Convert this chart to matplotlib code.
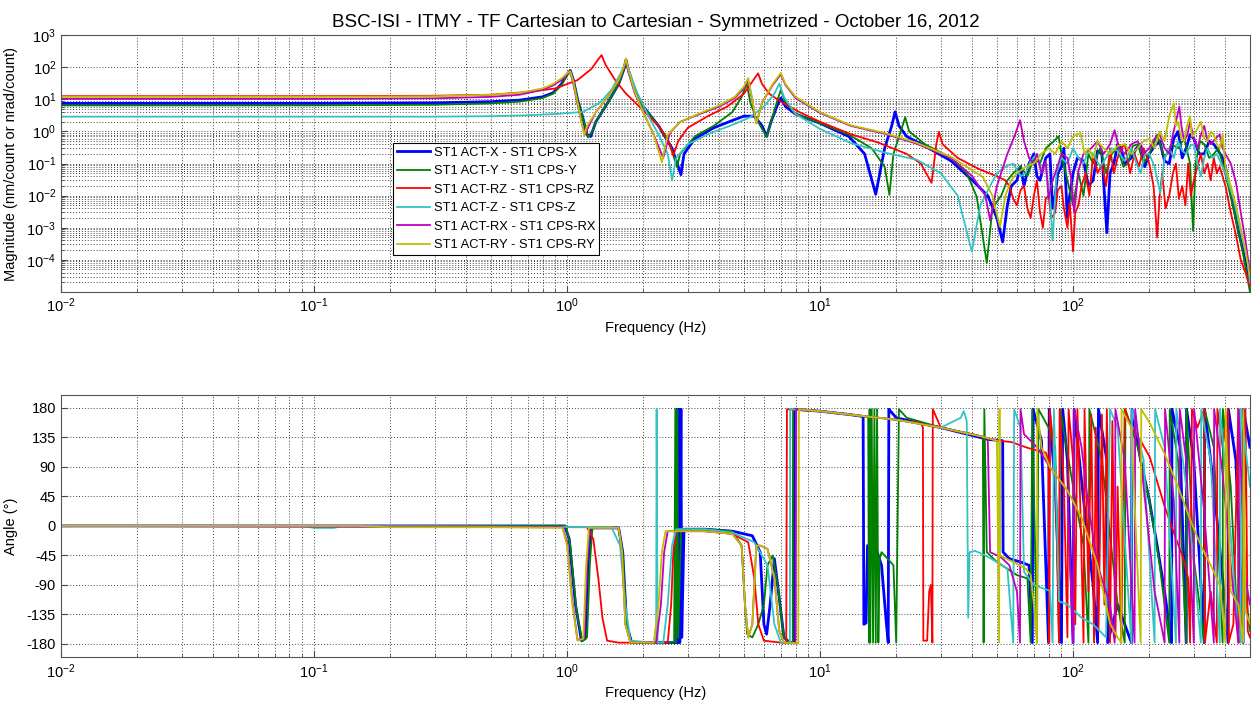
import matplotlib
matplotlib.use("Agg")
import matplotlib.pyplot as plt
from matplotlib.ticker import FixedLocator, NullFormatter

plt.rcParams['font.family'] = ['Liberation Sans', 'DejaVu Sans']
plt.rcParams['mathtext.fontset'] = 'custom'
plt.rcParams['mathtext.rm'] = 'Liberation Sans'
plt.rcParams['axes.unicode_minus'] = False

title = "BSC-ISI - ITMY - TF Cartesian to Cartesian - Symmetrized - October 16, 2012"
labels = ["ST1 ACT-X - ST1 CPS-X", "ST1 ACT-Y - ST1 CPS-Y", "ST1 ACT-RZ - ST1 CPS-RZ",
          "ST1 ACT-Z - ST1 CPS-Z", "ST1 ACT-RX - ST1 CPS-RX", "ST1 ACT-RY - ST1 CPS-RY"]
colors = ["#0000ff", "#008000", "#ff0000", "#33c3c3", "#c000c0", "#c0c000"]

# magnitude, (freq Hz, value)
mag_x = [(0.01, 7.5), (0.1, 7.5), (0.3, 7.8), (0.5, 8.5), (0.65, 9.5), (0.8, 12), (0.88, 16), (0.95, 30),
         (1.0, 60), (1.03, 80), (1.06, 40), (1.10, 10), (1.15, 3), (1.20, 0.8), (1.24, 0.7), (1.30, 2),
         (1.45, 8), (1.60, 30), (1.68, 90), (1.71, 170), (1.75, 80), (1.85, 20), (2.0, 6), (2.3, 1.5),
         (2.6, 0.3), (2.75, 0.08), (2.82, 0.045), (2.9, 0.2), (3.2, 0.6), (3.8, 1.3), (4.5, 2.2), (5.0, 3.0),
         (5.5, 3.0), (5.9, 1.5), (6.15, 0.7), (6.4, 2), (6.8, 7), (7.0, 11), (7.3, 6), (8.0, 3.5), (10, 1.8),
         (13, 0.7), (15, 0.2), (16.6, 0.011), (18, 0.3), (19.2, 1.5), (19.8, 4.1), (20.5, 1.5), (22, 0.7),
         (26, 0.35), (33, 0.12), (40, 0.03), (46, 0.01), (50, 0.002), (52.7, 0.00036), (55, 0.005),
         (57, 0.02), (60, 0.03), (62, 0.08), (64, 0.02), (67, 0.1), (70, 0.2), (72, 0.04), (74, 0.03),
         (78, 0.15), (81, 0.2), (83, 0.004), (85, 0.01), (87, 0.05), (90, 0.08), (92, 0.3), (95, 0.002),
         (97, 0.01), (100, 0.05), (104, 0.15), (110, 0.12), (115, 0.02), (120, 0.03), (125, 0.25),
         (130, 0.2), (136, 0.0007), (140, 0.05), (145, 0.1), (150, 0.4), (155, 0.3), (160, 0.1), (170, 0.15),
         (178, 0.3), (185, 0.4), (192, 0.08), (200, 0.2), (210, 0.35), (220, 0.5), (230, 0.12), (240, 0.1),
         (250, 0.6), (260, 1.0), (270, 0.15), (280, 0.3), (290, 0.8), (300, 0.6), (315, 0.2), (330, 0.2),
         (345, 0.5), (360, 0.4), (375, 0.25), (390, 0.15), (400, 0.08), (410, 0.03), (430, 0.005),
         (450, 0.0008), (470, 0.0002), (500, 0.00002)]
mag_y = [(0.01, 6.5), (0.1, 6.5), (0.3, 6.8), (0.5, 7.5), (0.65, 8.5), (0.8, 11), (0.88, 15), (0.95, 28),
         (1.0, 55), (1.03, 80), (1.06, 40), (1.10, 10), (1.15, 3), (1.21, 0.65), (1.26, 1), (1.30, 2),
         (1.45, 8), (1.6, 30), (1.68, 90), (1.71, 180), (1.75, 80), (1.85, 20), (2.0, 6), (2.3, 1.5),
         (2.55, 0.4), (2.72, 0.078), (2.8, 0.2), (3.2, 0.7), (3.8, 1.5), (4.5, 4), (4.9, 12), (5.13, 31),
         (5.3, 8), (5.6, 2.5), (5.9, 1.2), (6.15, 0.7), (6.4, 2), (6.8, 10), (7.0, 20), (7.3, 8), (8, 3.5),
         (10, 1.8), (13, 0.8), (16, 0.3), (18, 0.08), (18.8, 0.0105), (19.5, 0.2), (21, 1.2), (21.7, 2.8),
         (22.5, 1.0), (26, 0.4), (33, 0.15), (38, 0.05), (41.6, 0.0093), (45.6, 0.00008), (48, 0.004),
         (52, 0.01), (55, 0.03), (58, 0.05), (62, 0.08), (66, 0.04), (70, 0.15), (74, 0.1), (78, 0.3),
         (84, 0.5), (87.6, 0.71), (90, 0.2), (95, 0.03), (100, 0.005), (105, 0.05), (110, 0.01), (115, 0.2),
         (120, 0.1), (128, 0.3), (135, 0.05), (142, 0.2), (150, 0.3), (158, 0.08), (165, 0.1), (172, 0.35),
         (180, 0.4), (190, 0.1), (200, 0.2), (215, 0.8), (230, 0.15), (245, 0.4), (260, 0.3), (275, 0.6),
         (290, 0.1), (298, 0.0008), (305, 0.1), (318, 0.5), (330, 0.4), (345, 0.15), (360, 0.2), (375, 0.3),
         (390, 0.1), (410, 0.02), (430, 0.004), (450, 0.0008), (470, 0.00015), (500, 0.00001)]
mag_rz = [(0.01, 12.6), (0.1, 12.6), (0.3, 13), (0.5, 14), (0.7, 17), (0.9, 22), (1.1, 40), (1.25, 90),
          (1.33, 180), (1.37, 240), (1.42, 120), (1.55, 40), (1.7, 16), (2.0, 4.5), (2.3, 1.5), (2.5, 0.6),
          (2.63, 0.18), (2.75, 0.5), (3.0, 1.3), (3.6, 3), (4.3, 6), (5.0, 15), (5.45, 40), (5.69, 65),
          (5.9, 30), (6.3, 15), (7.0, 8.5), (8.3, 4), (10, 2), (13.2, 0.83), (17, 0.45), (22, 0.2), (25, 0.1),
          (27.6, 0.025), (28.8, 0.4), (29.5, 0.97), (30.5, 0.4), (35, 0.15), (42, 0.07), (50, 0.04),
          (54, 0.03), (56, 0.02), (58, 0.008), (60, 0.005), (62, 0.015), (64, 0.02), (66, 0.004), (68, 0.002),
          (70, 0.01), (72, 0.03), (74, 0.003), (76, 0.001), (78, 0.008), (80, 0.01), (82, 0.002), (85, 0.003),
          (87, 0.015), (90, 0.02), (92, 0.004), (95, 0.001), (97, 0.006), (100, 0.00018), (102, 0.003),
          (105, 0.005), (108, 0.02), (112, 0.05), (116, 0.01), (120, 0.2), (125, 0.05), (130, 0.1),
          (135, 0.02), (140, 0.3), (145, 0.05), (150, 0.15), (155, 0.3), (160, 0.4), (168, 0.05), (175, 0.2),
          (182, 0.08), (190, 0.3), (200, 0.1), (208, 0.02), (215, 0.0005), (220, 0.01), (225, 0.05),
          (232, 0.004), (240, 0.01), (248, 0.05), (255, 0.1), (262, 0.008), (270, 0.02), (278, 0.005),
          (285, 0.1), (292, 0.01), (300, 0.03), (310, 0.08), (320, 0.2), (330, 0.05), (340, 0.1), (350, 0.03),
          (360, 0.15), (370, 0.05), (380, 0.08), (390, 0.04), (400, 0.02), (420, 0.003), (440, 0.0006),
          (460, 0.0001), (480, 0.00004), (500, 0.000015)]
mag_z = [(0.01, 2.9), (0.1, 2.9), (0.3, 2.9), (0.5, 3.0), (0.7, 3.2), (0.9, 3.5), (1.16, 4.1), (1.35, 8),
         (1.5, 20), (1.62, 60), (1.71, 150), (1.78, 60), (1.9, 15), (2.1, 3), (2.3, 0.8), (2.5, 0.2),
         (2.6, 0.03), (2.7, 0.15), (3.0, 0.4), (3.7, 0.9), (4.5, 1.6), (5.3, 2.8), (6.0, 6), (6.6, 15),
         (6.9, 31), (7.2, 12), (8, 3.5), (10, 1.2), (13.2, 0.44), (18, 0.22), (24.2, 0.13), (30, 0.05),
         (35, 0.01), (39.8, 0.00018), (43, 0.005), (47, 0.02), (50, 0.05), (54, 0.08), (58, 0.1), (62, 0.04),
         (65, 0.05), (68, 0.12), (72, 0.2), (75, 0.06), (78, 0.08), (81, 0.01), (83, 0.0004), (86, 0.05),
         (90, 0.15), (95, 0.1), (100, 0.3), (105, 0.15), (110, 0.1), (115, 0.25), (120, 0.2), (128, 0.08),
         (135, 0.15), (142, 0.3), (150, 0.25), (160, 0.12), (170, 0.3), (178, 0.1), (185, 0.05), (192, 0.2),
         (200, 0.2), (210, 0.08), (221, 0.012), (230, 0.15), (240, 0.3), (250, 0.15), (260, 0.5), (270, 0.25),
         (280, 0.2), (290, 0.35), (300, 0.4), (310, 0.1), (320, 0.04), (330, 0.15), (340, 0.3), (355, 0.15),
         (370, 0.2), (385, 0.1), (400, 0.05), (430, 0.008), (460, 0.0008), (490, 0.00008), (500, 0.00002)]
mag_rx = [(0.01, 10.4), (0.1, 10.4), (0.3, 10.8), (0.5, 12), (0.65, 14), (0.8, 20), (0.88, 27), (0.95, 40),
          (1.0, 60), (1.03, 70), (1.06, 30), (1.10, 7), (1.15, 1.5), (1.18, 0.8), (1.22, 1.5), (1.3, 4),
          (1.45, 12), (1.6, 40), (1.68, 100), (1.71, 170), (1.75, 70), (1.85, 16), (2.0, 4), (2.2, 0.8),
          (2.4, 0.15), (2.55, 0.9), (2.8, 2), (3.35, 3.5), (4.0, 6), (4.6, 11), (5.0, 22), (5.2, 40), (5.4, 9),
          (5.6, 1.8), (5.9, 8), (6.5, 28), (7.0, 60), (7.3, 28), (8, 11), (10, 3.8), (13.2, 1.5), (18, 0.85),
          (24, 0.42), (33, 0.15), (40, 0.04), (45, 0.01), (47, 0.0017), (50, 0.02), (55, 0.2), (59, 0.8),
          (61.7, 2.25), (64, 0.5), (67, 0.15), (70, 0.1), (72, 0.2), (75, 0.05), (78, 0.12), (80, 0.008),
          (83, 0.03), (85, 0.05), (90, 0.2), (95, 0.15), (98, 0.04), (101, 0.003), (105, 0.06), (110, 0.2),
          (118, 0.3), (125, 0.5), (132, 0.2), (140, 0.4), (146, 1.1), (152, 0.3), (160, 0.2), (170, 0.4),
          (180, 0.5), (190, 0.2), (200, 0.3), (210, 0.6), (220, 0.8), (230, 0.3), (240, 0.2), (248, 0.8),
          (255, 2), (263, 6), (268, 1.5), (275, 0.5), (283, 0.8), (290, 2), (300, 0.6), (310, 0.3), (320, 0.8),
          (330, 1.5), (340, 0.5), (350, 0.4), (365, 0.6), (380, 0.8), (390, 0.3), (400, 0.2), (420, 0.1),
          (440, 0.027), (460, 0.003), (480, 0.0004), (500, 0.00004)]
mag_ry = [(0.01, 12), (0.1, 12), (0.3, 12.5), (0.5, 14), (0.65, 16), (0.8, 22), (0.88, 30), (0.95, 45),
          (1.0, 65), (1.03, 75), (1.06, 35), (1.10, 8), (1.14, 2), (1.17, 0.77), (1.2, 1.5), (1.3, 4),
          (1.45, 12), (1.6, 40), (1.68, 110), (1.71, 190), (1.75, 80), (1.85, 18), (2.0, 4), (2.2, 0.8),
          (2.37, 0.11), (2.5, 0.8), (2.8, 2), (3.35, 3.7), (4.0, 6.5), (4.6, 12), (5.0, 25), (5.2, 46),
          (5.4, 10), (5.6, 1.8), (5.9, 8), (6.5, 30), (7.0, 67), (7.3, 30), (8, 12), (10, 4), (13.2, 1.57),
          (18, 0.9), (24, 0.45), (33, 0.16), (44, 0.038), (48, 0.01), (51.4, 0.00107), (54, 0.01), (57, 0.03),
          (60, 0.05), (65, 0.08), (70, 0.1), (75, 0.2), (80, 0.3), (85, 0.2), (90, 0.5), (95, 0.3), (100, 0.7),
          (107, 0.9), (111, 0.2), (115, 0.3), (120, 0.15), (125, 0.5), (132, 0.3), (140, 0.2), (150, 0.35),
          (160, 0.4), (170, 0.2), (180, 0.3), (190, 0.5), (200, 0.6), (210, 0.3), (220, 1.0), (230, 0.5),
          (240, 3), (250, 7.6), (255, 1.5), (260, 2), (268, 0.6), (275, 0.5), (282, 1.5), (290, 3), (295, 0.7),
          (300, 0.8), (310, 1.2), (320, 2), (330, 0.6), (340, 0.5), (350, 1.0), (360, 0.8), (370, 0.4),
          (380, 0.3), (390, 0.8), (400, 0.08), (420, 0.02), (440, 0.005), (460, 0.001), (480, 0.0002),
          (500, 0.00003)]

# phase in degrees, (freq Hz, value)
ph_x = [(0.01, 0), (0.98, 0), (1.02, -20), (1.08, -120), (1.14, -175), (1.18, -172), (1.21, -60), (1.24, -3),
        (1.6, -3), (1.66, -40), (1.72, -150), (1.8, -178), (2.7, -178), (2.72, 178), (2.74, -178), (2.77, 178),
        (2.79, -178), (2.82, 178), (2.84, -170), (2.9, -5), (3.5, -5), (4.5, -8), (5.4, -15), (5.8, -40),
        (6.0, -150), (6.15, -165), (6.35, -120), (6.6, -50), (6.8, -90), (7.2, -170), (7.6, -178),
        (7.9, -178), (7.92, 178), (10, 175), (13, 170), (14.8, 167), (14.9, -150), (15.2, -148), (15.4, -30),
        (16.5, -30), (17.5, -60), (18.3, -150), (18.6, -178), (18.7, 178), (20, 165), (24, 158), (30, 150),
        (40, 138), (46, 132), (52.7, 130), (52.9, -40), (56, -50), (62, -55), (67, -60), (69, -178),
        (69.5, 178), (75, 130), (80, -178), (80.5, 178), (85, 60), (90, -178), (91, 178), (95, 100),
        (100, -178), (101, 178), (110, 40), (120, -90), (125, -178), (126, 178), (136, 100), (137, -178),
        (150, -120), (170, -178), (171, 178), (185, 100), (200, 40), (215, -30), (230, -100), (245, -178),
        (246, 178), (265, 120), (280, -178), (281, 178), (300, 100), (330, -178), (331, 178), (360, 60),
        (390, -80), (410, -178), (411, 178), (440, 100), (470, -178), (471, 178), (500, 120)]
ph_y = [(0.01, 0), (0.99, 0), (1.03, -30), (1.09, -130), (1.15, -176), (1.2, -170), (1.23, -60), (1.26, -3),
        (1.6, -3), (1.66, -40), (1.72, -150), (1.8, -178), (2.65, -178), (2.68, 178), (2.7, -178), (2.73, 178),
        (2.75, -170), (2.82, -5), (3.5, -5), (4.5, -8), (4.9, -30), (5.05, -120), (5.15, -165), (5.4, -170),
        (5.7, -150), (6.0, -120), (6.2, -60), (6.5, -45), (6.8, -90), (7.2, -170), (7.6, -178), (7.8, -178),
        (7.82, 178), (10, 175), (13, 170), (15.5, 166), (15.6, -178), (15.7, 178), (15.8, -178), (16, 178),
        (16.2, -178), (16.4, 178), (16.6, -178), (16.8, 178), (17, -178), (17.2, -50), (17.5, -40),
        (18.5, -50), (19.5, -60), (20, -178), (20.5, 178), (22, 165), (30, 150), (40, 140), (44, 136),
        (44.3, -178), (44.6, 178), (45.6, -40), (50, -55), (60, -75), (66, -80), (68, -178), (69, 178),
        (72, -178), (73, 178), (80, 150), (85, 120), (88, -178), (89, 178), (100, 60), (110, -30),
        (115, -178), (116, 178), (130, 100), (150, -120), (160, -178), (161, 178), (180, 120), (200, 40),
        (220, -60), (240, -178), (241, 178), (260, 100), (280, -178), (281, 178), (300, -50), (330, -178),
        (331, 178), (360, 120), (390, -178), (391, 178), (420, 60), (450, -178), (451, 178), (480, -100),
        (500, -160)]
ph_rz = [(0.01, 0), (0.15, 0), (1.2, -2), (1.27, -20), (1.33, -80), (1.38, -140), (1.44, -175), (1.6, -178),
         (2.5, -178), (2.58, -120), (2.63, -40), (2.7, -8), (3.5, -8), (4.5, -12), (5.2, -25), (5.5, -80),
         (5.7, -150), (6.0, -175), (7.0, -178), (7.35, -179), (7.4, 178), (8, 177), (10, 175), (13, 170),
         (20, 162), (25, 157), (25.5, 150), (25.6, -175), (26.5, -175), (27, -100), (27.4, -90), (27.8, -178),
         (27.9, 178), (28.5, 170), (30, 150), (44, 136), (50, 130), (57, 128), (65, 120), (72, 115),
         (78, 112), (80, 100), (80.5, -178), (81, 178), (85, 90), (88, -178), (88.5, 178), (92, 60),
         (95, -170), (96, 178), (100, 100), (102, -150), (104, 178), (107, 20), (110, -178), (111, 178),
         (115, -100), (118, 170), (121, -178), (123, 150), (126, -160), (130, 170), (133, -120), (136, 178),
         (140, -178), (143, 160), (147, -170), (150, 60), (155, -178), (160, 178), (170, 150), (185, 130),
         (201, 105), (230, 30), (250, -10), (272, -48), (285, -80), (290, -178), (295, 178), (310, 150),
         (330, 178), (332, -178), (350, -100), (370, -178), (372, 178), (390, 120), (410, 178), (412, -178),
         (430, -150), (450, 178), (452, -178), (470, -120), (480, 178), (490, -160), (500, -170)]
ph_z = [(0.01, 0), (0.09, 0), (0.1, -3), (0.12, -3), (0.13, 0), (1.5, -2), (1.62, -30), (1.7, -120),
        (1.78, -175), (2.2, -178), (2.25, -178), (2.26, 178), (2.28, -178), (2.4, -178), (2.5, -120),
        (2.6, -30), (2.7, -5), (3.5, -5), (4.5, -10), (5.5, -25), (6.2, -60), (6.6, -150), (7.0, -178),
        (7.6, -179), (7.62, 178), (10, 175), (13, 170), (20, 162), (30, 150), (36, 165), (37, 175),
        (38, 160), (38.5, -140), (39, -40), (41, -38), (45, -45), (50, -55), (55, -65), (58, -178),
        (58.5, 178), (62, 150), (64, -70), (70, -90), (81, -99), (83, -178), (84, 178), (88, -115),
        (95, -120), (108, -140), (120, -150), (135, -170), (140, 178), (150, 150), (170, -178), (171, 178),
        (190, 100), (210, -178), (211, 178), (230, 120), (255, -178), (256, 178), (280, 60), (300, -60),
        (320, -178), (321, 178), (350, 100), (380, -178), (381, 178), (410, 40), (440, -120), (460, -178),
        (461, 178), (490, 90), (500, 60)]
ph_rx = [(0.01, 0), (0.96, -2), (1.0, -25), (1.05, -115), (1.1, -174), (1.17, -170), (1.2, -60), (1.23, -3),
         (1.6, -3), (1.65, -40), (1.7, -150), (1.78, -178), (2.25, -178), (2.35, -120), (2.42, -40), (2.5, -8),
         (3.5, -8), (4.5, -12), (4.9, -30), (5.05, -120), (5.2, -170), (5.4, -150), (5.6, -30), (5.8, -30),
         (6.2, -35), (6.6, -80), (6.9, -160), (7.2, -178), (8.0, -179), (8.05, 178), (10, 175), (13, 170),
         (20, 162), (30, 150), (44, 136), (46, 134), (47, -40), (52, -48), (56, -60), (60, -100), (61.7, -178),
         (62, 178), (64, 140), (72, 120), (81, 90), (95, 54), (100, -178), (101, 178), (108, 120), (115, 30),
         (125, -60), (140, -120), (146, -178), (147, 178), (160, 100), (175, -178), (176, 178), (190, 60),
         (210, -100), (230, -178), (231, 178), (250, 40), (263, -178), (264, 178), (280, 100), (300, -178),
         (301, 178), (330, 20), (360, -178), (361, 178), (390, 80), (420, -60), (450, -178), (451, 178),
         (480, -80), (500, -120)]
ph_ry = [(0.01, 0), (0.15, 0), (0.2, -2), (0.5, -2), (0.96, -3), (1.0, -30), (1.05, -120), (1.1, -175),
         (1.16, -172), (1.19, -60), (1.22, -3), (1.6, -3), (1.65, -40), (1.7, -150), (1.78, -178), (2.2, -178),
         (2.3, -120), (2.37, -40), (2.45, -8), (3.5, -8), (4.5, -12), (4.9, -30), (5.05, -120), (5.2, -170),
         (5.4, -150), (5.6, -30), (5.8, -30), (6.2, -35), (6.6, -80), (6.9, -160), (7.2, -178), (8.2, -179),
         (8.25, 178), (10, 175), (13, 170), (20, 162), (30, 150), (44, 136), (50, 130), (51, -178),
         (51.2, 178), (51.4, -45), (58, -55), (65, -65), (68, -75), (70, -120), (72, -178), (72.2, 178),
         (75, 120), (81, 90), (95, 54), (108, 13), (125, -60), (140, -149), (150, -170), (155, -178),
         (155.5, 178), (170, 150), (185, -178), (186, 178), (201, 157), (230, 110), (260, 60), (290, 10),
         (320, -30), (350, -60), (380, -90), (400, -178), (401, 178), (420, -100), (450, -120), (470, -178),
         (471, 178), (480, -130), (500, -149)]

mags = [mag_x, mag_y, mag_rz, mag_z, mag_rx, mag_ry]
phases = [ph_x, ph_y, ph_rz, ph_z, ph_rx, ph_ry]
widths = [2.0, 1.3, 1.3, 1.3, 1.3, 1.3]

fig = plt.figure(figsize=(12.6, 7.05), dpi=100)
ax1 = fig.add_axes([0.0484, 0.586, 0.9436, 0.364])
ax2 = fig.add_axes([0.0484, 0.068, 0.9436, 0.372])

for data, c, w, lab in zip(mags, colors, widths, labels):
    ax1.plot([p[0] for p in data], [p[1] for p in data], color=c, lw=w, label=lab)
for data, c, w in zip(phases, colors, widths):
    ax2.plot([p[0] for p in data], [p[1] for p in data], color=c, lw=w)

grid_kw = dict(color="#444444", linestyle=(0, (1, 2)), linewidth=0.7)
minor_x = [k * 10.0 ** e for e in range(-2, 3) for k in range(2, 10) if k * 10.0 ** e < 500]

ax1.set_xscale("log")
ax1.set_yscale("log")
ax1.set_xlim(0.01, 500)
ax1.set_ylim(1e-5, 1e3)
ax1.yaxis.set_major_locator(FixedLocator([1e-4, 1e-3, 1e-2, 1e-1, 1, 10, 100, 1000]))
ax1.yaxis.set_minor_locator(FixedLocator([k * 10.0 ** e for e in range(-5, 1) for k in range(2, 10)]))
ax1.yaxis.set_minor_formatter(NullFormatter())
ax1.set_ylabel("Magnitude (nm/count or nrad/count)", fontsize=10.5)

ax2.set_xscale("log")
ax2.set_xlim(0.01, 500)
ax2.set_ylim(-200, 200)
ax2.set_yticks(range(-180, 181, 45))
ax2.set_ylabel("Angle (°)", fontsize=10.5)

for ax in (ax1, ax2):
    ax.xaxis.set_minor_locator(FixedLocator(minor_x))
    ax.xaxis.set_minor_formatter(NullFormatter())
    ax.grid(True, which="major", **grid_kw)
    ax.grid(True, which="minor", **grid_kw)
    ax.set_xlabel("Frequency (Hz)", fontsize=10.5)
    ax.tick_params(which="both", direction="in", labelsize=10.5, length=4, color="#444444")
    ax.tick_params(which="minor", length=2)
    ax.yaxis.set_label_coords(-0.036, 0.5)
    for s in ax.spines.values():
        s.set_color("#555555")
        s.set_linewidth(0.8)

ax1.set_title(title, fontsize=13.5, pad=6)

leg = ax1.legend(loc="upper left", bbox_to_anchor=(0.279, 0.58), fontsize=9.3, frameon=True,
                 fancybox=False, edgecolor="black", framealpha=1, handlelength=2.6,
                 handletextpad=0.3, labelspacing=0.5, borderpad=0.3, borderaxespad=0)
leg.get_frame().set_linewidth(0.8)

fig.savefig("out.png", dpi=100)
